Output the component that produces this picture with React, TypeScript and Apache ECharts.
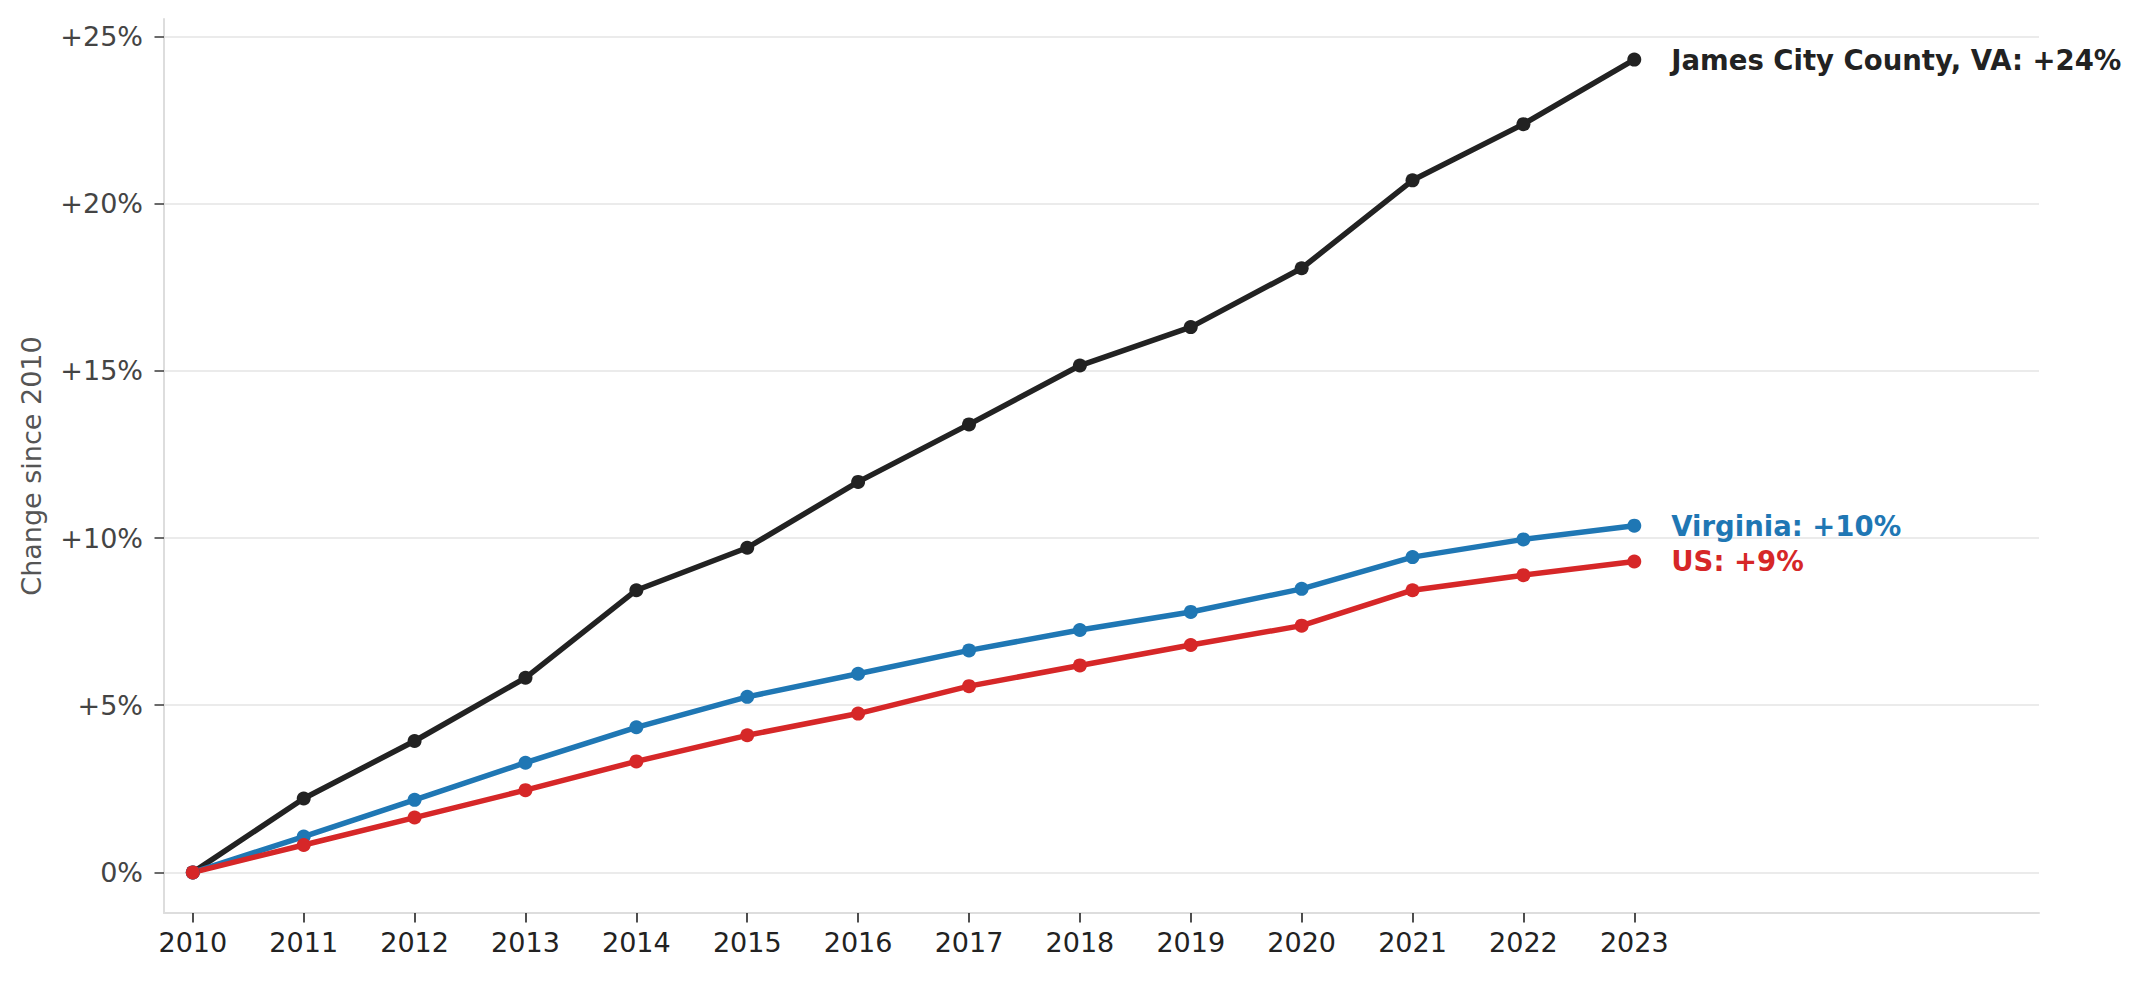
import React, { useEffect, useRef } from "react";
import * as echarts from "echarts";

// Cumulative population change since 2010, in percent
const years = [2010, 2011, 2012, 2013, 2014, 2015, 2016, 2017, 2018, 2019, 2020, 2021, 2022, 2023];
const jamesCity = [0, 2.21, 3.93, 5.82, 8.44, 9.71, 11.68, 13.4, 15.16, 16.31, 18.07, 20.7, 22.38, 24.31];
const virginia = [0, 1.07, 2.17, 3.28, 4.34, 5.25, 5.94, 6.64, 7.25, 7.79, 8.48, 9.43, 9.96, 10.37];
const us = [0, 0.82, 1.64, 2.46, 3.32, 4.1, 4.75, 5.57, 6.19, 6.8, 7.38, 8.44, 8.89, 9.3];
const yTicks = [0, 5, 10, 15, 20, 25];

const seriesDefs = [
  { name: "James City County, VA", values: jamesCity, color: "#222222" },
  { name: "Virginia", values: virginia, color: "#1f77b4" },
  { name: "US", values: us, color: "#d62728" },
];

const FONT = "DejaVu Sans";

export default function App() {
  const ref = useRef<HTMLDivElement>(null);

  useEffect(() => {
    if (!ref.current) return;
    const chart = echarts.init(ref.current, null, { renderer: "svg" });

    const series = seriesDefs.map((s) => ({
      type: "line",
      name: s.name,
      data: years.map((y, i) => {
        const v = s.values[i];
        if (i === years.length - 1) {
          return {
            value: [y, v],
            label: {
              show: true,
              position: "right",
              distance: 30,
              formatter: `${s.name}: +${Math.round(v)}%`,
              color: s.color,
              fontFamily: FONT,
              fontWeight: "bold",
              fontSize: 27.5,
            },
          };
        }
        return [y, v];
      }),
      symbol: "circle",
      symbolSize: 14,
      showSymbol: true,
      lineStyle: { color: s.color, width: 5.5 },
      itemStyle: { color: s.color },
      emphasis: { disabled: true },
      silent: true,
    }));

    chart.setOption({
      animation: false,
      backgroundColor: "#ffffff",
      grid: { left: 164, right: 105, top: 19, bottom: 68, containLabel: false },
      xAxis: {
        type: "value",
        min: 2009.74,
        max: 2026.65,
        axisLine: { show: true, onZero: false, lineStyle: { color: "#dddddd", width: 2 } },
        axisTick: {
          show: true,
          customValues: years,
          length: 9.5,
          inside: false,
          lineStyle: { color: "#222222", width: 1.6 },
        },
        axisLabel: {
          customValues: years,
          formatter: (v: number) => String(v),
          margin: 16,
          color: "#222222",
          fontFamily: FONT,
          fontSize: 27,
        },
        splitLine: { show: false },
      },
      yAxis: {
        type: "value",
        min: -1.215,
        max: 25.525,
        axisLine: { show: true, onZero: false, lineStyle: { color: "#dddddd", width: 2 } },
        axisTick: {
          show: true,
          customValues: yTicks,
          length: 9.5,
          lineStyle: { color: "#444444", width: 1.6 },
        },
        axisLabel: {
          customValues: yTicks,
          formatter: (v: number) => (v === 0 ? "0%" : `+${v}%`),
          margin: 21,
          color: "#444444",
          fontFamily: FONT,
          fontSize: 27,
        },
        splitLine: { show: true, lineStyle: { color: "#ebebeb", width: 2 } },
      },
      graphic: [
        {
          type: "text",
          x: 31,
          y: 466,
          rotation: Math.PI / 2,
          style: {
            text: "Change since 2010",
            fill: "#555555",
            font: `27px ${FONT}`,
            textAlign: "center",
            textVerticalAlign: "middle",
          },
        },
      ],
      series,
    });

    return () => chart.dispose();
  }, []);

  return (
    <div
      ref={ref}
      style={{ position: "fixed", left: 0, top: 0, width: 2144, height: 981, background: "#fff" }}
    />
  );
}
